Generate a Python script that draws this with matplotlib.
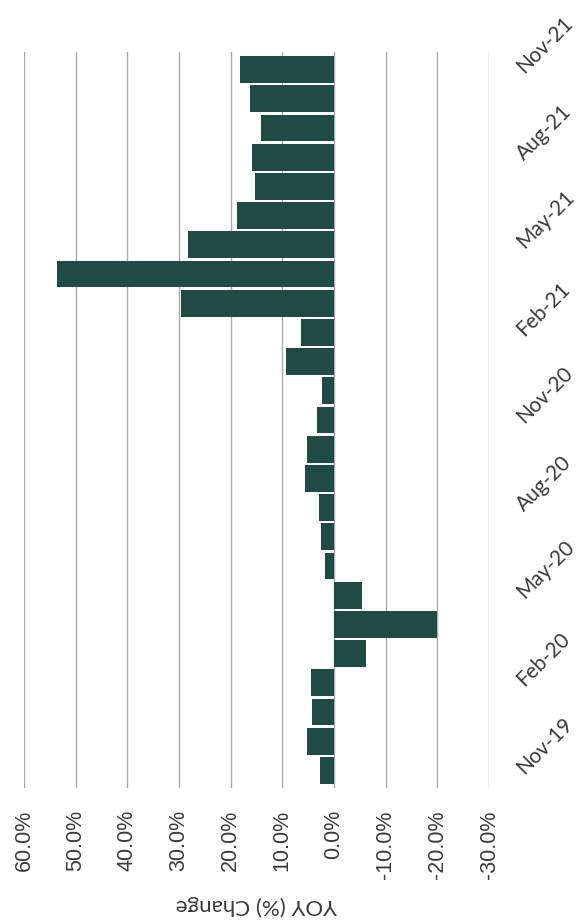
import matplotlib
matplotlib.use("Agg")
import matplotlib.pyplot as plt

plt.rcParams['font.family'] = ['Lato', 'DejaVu Sans']

# Monthly year-over-year change, Nov-19 through Nov-21
months = ["Nov-19", "Dec-19", "Jan-20", "Feb-20", "Mar-20", "Apr-20", "May-20",
          "Jun-20", "Jul-20", "Aug-20", "Sep-20", "Oct-20", "Nov-20", "Dec-20",
          "Jan-21", "Feb-21", "Mar-21", "Apr-21", "May-21", "Jun-21", "Jul-21",
          "Aug-21", "Sep-21", "Oct-21", "Nov-21"]
yoy_change = [2.8, 5.2, 4.3, 4.4, -6.1, -20.0, -5.5,
              1.7, 2.6, 2.9, 5.7, 5.2, 3.3, 2.3,
              9.3, 6.4, 29.6, 53.7, 28.2, 18.7, 15.3,
              15.8, 14.2, 16.2, 18.2]
value_ticks = [60, 50, 40, 30, 20, 10, 0, -10, -20, -30]
axis_title = "YOY (%) Change"

bar_color = "#1f4a46"
grid_color = "#ababab"
text_color = "#3a3a3a"

fig = plt.figure(figsize=(5.86, 9.21), dpi=100)
ax = fig.add_axes([24 / 586, 1 - 788 / 921, (489 - 24) / 586, (788 - 52) / 921])

positions = list(range(len(months)))
ax.barh(positions, yoy_change, height=0.92, color=bar_color, zorder=3)

ax.set_xlim(60, -30)
ax.set_ylim(-0.6, len(months) - 0.4)

ax.set_xticks(value_ticks)
ax.set_xticklabels([f"{v:.1f}%" for v in value_ticks], rotation=90,
                   fontsize=15.5, color=text_color, family="Liberation Sans")
ax.tick_params(axis="x", length=0, pad=16)
ax.grid(axis="x", color=grid_color, linewidth=1.0, zorder=0)

label_idx = positions[::3]
ax.yaxis.tick_right()
ax.set_yticks(label_idx)
ax.set_yticklabels([months[i] for i in label_idx], rotation=45, ha="left",
                   va="center", rotation_mode="anchor", fontsize=15,
                   color=text_color)
ax.tick_params(axis="y", length=0, pad=22)

for s in ax.spines.values():
    s.set_visible(False)

fig.text(256 / 586, 1 - 905 / 921, axis_title, rotation=180, ha="center",
         va="center", fontsize=16, color=text_color)

fig.savefig("out.png", dpi=100)
